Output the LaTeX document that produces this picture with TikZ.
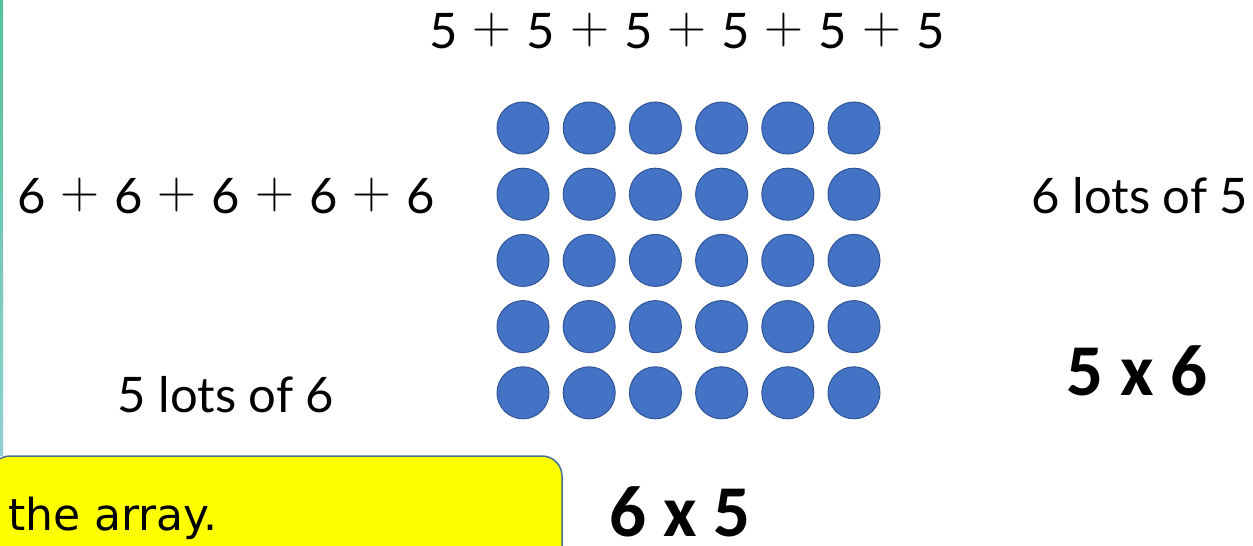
\documentclass[tikz,border=0pt]{standalone}
\usepackage{fontspec}
\setmainfont{Lato}
\newfontfamily\boldfont{Carlito}
\newfontfamily\handfont{DejaVu Sans}
\newfontfamily\plusfont{Latin Modern Roman}
\definecolor{dotfill}{HTML}{4472C4}
\definecolor{dotedge}{HTML}{2F5597}
\definecolor{boxedge}{HTML}{41719C}
\definecolor{boxfill}{HTML}{FFFF00}
\definecolor{sideline}{HTML}{55C29A}
\definecolor{sideline2}{HTML}{8FD0D0}
\newcommand\pl{\hspace{15pt}\raisebox{4.5pt}{\plusfont\fontsize{54}{54}\selectfont +}\hspace{15pt}}
\begin{document}
\begin{tikzpicture}[x=1pt,y=-1pt,
  dot/.style={circle,fill=dotfill,draw=dotedge,line width=1pt,minimum size=52pt,inner sep=0pt},
  lbl/.style={inner sep=0pt,anchor=base,font=\fontsize{49}{52}\selectfont},
  big/.style={inner sep=0pt,anchor=base,font=\boldfont\bfseries\fontsize{73}{78}\selectfont},
  note/.style={inner sep=0pt,anchor=base west,font=\handfont\fontsize{44}{48}\selectfont}]
\useasboundingbox (0,0) rectangle (1253,546);
\begin{scope}
\clip (0,0) rectangle (1253,546);
\shade[top color=sideline,bottom color=sideline2] (0,0) rectangle (3,455);
\draw[fill=boxfill,draw=boxedge,line width=1.5pt,rounded corners=20pt] (-10,570) -- (-10,456) -- (562,456) -- (562,570);
\end{scope}
\foreach \r in {1,...,5}{
  \foreach \c in {1,...,6}{
    \node[dot] (d\r\c) at ({523+66.2*(\c-1)},{128+66.2*(\r-1)}) {};
  }
}
\node[lbl] (top) at (687,48) {5\pl5\pl5\pl5\pl5\pl5};
\node[lbl] (left) at (226,213) {6\pl6\pl6\pl6\pl6};
\node[lbl] (right) at (1140,213) {6 lots of 5};
\node[lbl] (lots) at (226,412) {5 lots of 6};
\node[big] (fivesix) at (1137,395) {5 x 6};
\node[big] (sixfive) at (680,536) {6 x 5};
\node[note] (arr) at (8,530) {the array.};
\end{tikzpicture}
\end{document}
